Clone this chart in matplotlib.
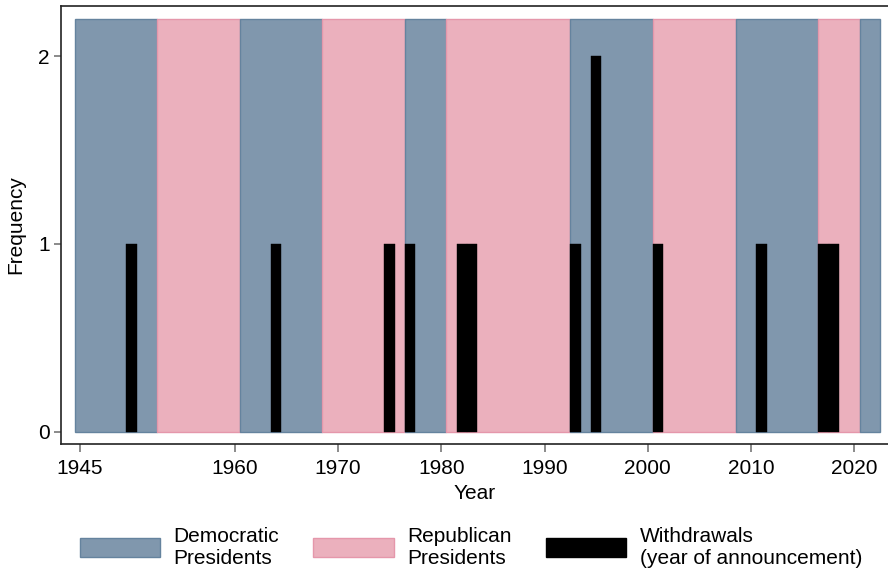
import matplotlib
matplotlib.use("Agg")
import matplotlib.pyplot as plt
from matplotlib.patches import Patch

plt.rcParams['font.family'] = ['Liberation Sans', 'DejaVu Sans']

# Presidential terms (year entered office, year left office, party)
term_start = [1945, 1953, 1961, 1969, 1977, 1981, 1993, 2001, 2009, 2017, 2021]
term_end = [1953, 1961, 1969, 1977, 1981, 1993, 2001, 2009, 2017, 2021, 2023]
term_party = ['D', 'R', 'D', 'R', 'D', 'R', 'D', 'R', 'D', 'R', 'D']
shade_height = 2.2

# Withdrawals (year of announcement)
withdraw_years = [1950, 1964, 1975, 1977, 1982, 1983, 1993, 1995, 2001, 2011, 2017, 2018]
withdraw_counts = [1, 1, 1, 1, 1, 1, 1, 2, 1, 1, 1, 1]

xticks = [1945, 1960, 1970, 1980, 1990, 2000, 2010, 2020]
yticks = [0, 1, 2]

dem_fc, dem_ec = '#8097ad', '#65839e'
rep_fc, rep_ec = '#ebb0bd', '#e597ab'

FS = 15

fig = plt.figure(figsize=(8.88, 5.73), dpi=100)
ax = fig.add_axes([61/888, 1 - 444/573, 1 - 61/888, (444 - 6)/573])

for s, e, p in zip(term_start, term_end, term_party):
    fc, ec = (dem_fc, dem_ec) if p == 'D' else (rep_fc, rep_ec)
    ax.bar((s + e) / 2 - 0.5, shade_height, width=e - s, color=fc,
           edgecolor=ec, linewidth=1.0, zorder=1)

ax.bar(withdraw_years, withdraw_counts, width=1.0, color='black',
       edgecolor='black', linewidth=0.3, zorder=3)

ax.set_xlim(1943.19, 2023.25)
ax.set_ylim(-0.0655, 2.267)
ax.set_xticks(xticks)
ax.set_yticks(yticks)
ax.tick_params(axis='x', length=6, width=1.2, color='#777777', labelsize=FS, pad=5)
ax.tick_params(axis='y', length=5, width=1.2, color='#777777', labelsize=FS, pad=3)
for sp in ['left', 'bottom', 'top']:
    ax.spines[sp].set_color('#222222')
    ax.spines[sp].set_linewidth(1.2)
ax.spines['right'].set_visible(False)
ax.set_xlabel('Year', fontsize=FS, labelpad=4)
ax.set_ylabel('Frequency', fontsize=FS, labelpad=9)

handles = [Patch(facecolor=dem_fc, edgecolor=dem_ec, linewidth=1.0),
           Patch(facecolor=rep_fc, edgecolor=rep_ec, linewidth=1.0),
           Patch(facecolor='black', edgecolor='black')]
labels = ['Democratic\nPresidents', 'Republican\nPresidents',
          'Withdrawals\n(year of announcement)']
fig.legend(handles, labels, loc='center', bbox_to_anchor=(471/888, 1 - 547/573),
           ncol=3, frameon=False, fontsize=FS, handlelength=3.85,
           handleheight=1.0, handletextpad=0.67, columnspacing=1.63,
           labelspacing=0.2)

fig.savefig('out.png', dpi=100)
